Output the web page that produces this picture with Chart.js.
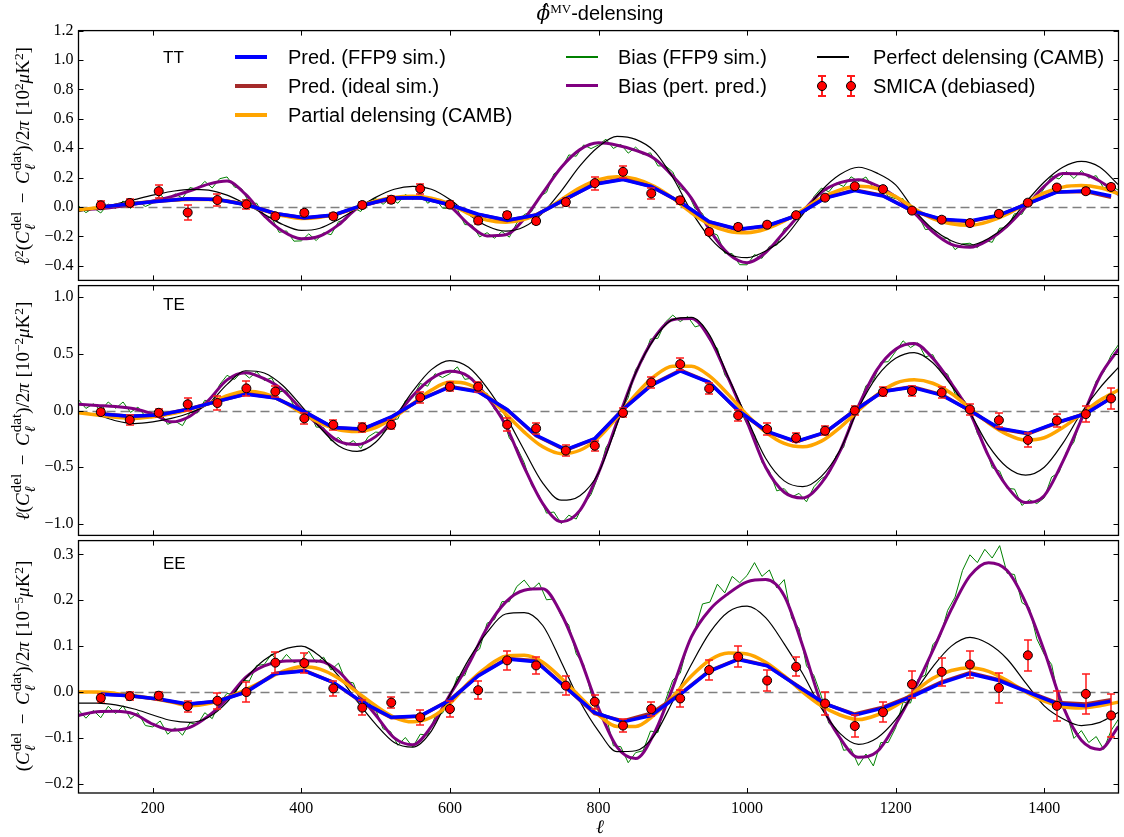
<!DOCTYPE html>
<html>
<head>
<meta charset="utf-8">
<title>MV delensing residuals</title>
<script src="https://cdn.jsdelivr.net/npm/chart.js@4.4.1/dist/chart.umd.min.js"></script>
<style>
    body { margin: 0; background: #fff; }
    #page { position: relative; width: 1124px; height: 837px; overflow: hidden; color: #000; font-family: "Liberation Sans", Arial, sans-serif; }
    .panel { position: absolute; left: 0; }
    .panel canvas { display: block; }
    .txt { position: absolute; white-space: nowrap; line-height: 1; }
    .lt { font-size: 20px; transform: translateY(-50%); }
    .tag { font-size: 17px; transform: translateY(-50%); }
    .hl { position: absolute; }
    .mk { position: absolute; width: 8px; height: 8px; border: 1px solid #000; border-radius: 50%; background: #ff0000; }
    .eb { position: absolute; background: #ff1a1a; }
    .ylab { position: absolute; left: -130px; width: 300px; height: 22px; line-height: 22px; text-align: center;
            transform: rotate(-90deg); font: 19px "Liberation Serif", "DejaVu Serif", serif; white-space: nowrap; }
    .ylab sup { font-size: 70%; line-height: 0; vertical-align: 0.45em; }
    .ylab .op { margin: 0 0.45em; }
    .ylab .unit { margin-left: 0.3em; }
    .ss { display: inline-block; font-size: 0.8em; line-height: 0.95; vertical-align: -0.4em; text-align: left; margin-left: 1px; }
    .ss span { display: block; }
    #title { position: absolute; left: 78px; width: 1044px; top: 1px; text-align: center; font-size: 20px; line-height: 24px; }
    #title .phi { font: italic 20px "DejaVu Serif", serif; }
    #title sup { font: 13px "Liberation Serif", serif; line-height: 0; vertical-align: 0.55em; }
    #xlab { position: absolute; left: 600px; top: 827px; transform: translate(-50%, -50%); font: italic 19px "Liberation Serif", serif; }
</style>
</head>
<body>
<div id="page">

    <div class="panel" style="top:16px"><canvas id="ttChart" width="1124" height="279"></canvas></div>
    <div class="panel" style="top:271px"><canvas id="teChart" width="1124" height="279"></canvas></div>
    <div class="panel" style="top:526px"><canvas id="eeChart" width="1124" height="311"></canvas></div>

    <div id="title"><span class="phi">ϕ̂</span><sup>MV</sup>-delensing</div>

    <div class="ylab" style="top:145px"><i>ℓ</i><sup>2</sup>(<i>C</i><span class="ss"><span>del</span><span><i>ℓ</i></span></span><span class="op">−</span><i>C</i><span class="ss"><span>dat</span><span><i>ℓ</i></span></span>)/2<i>π</i><span class="unit">[10<sup>2</sup><i>μ</i>K<sup>2</sup>]</span></div>
    <div class="ylab" style="top:400px"><i>ℓ</i>(<i>C</i><span class="ss"><span>del</span><span><i>ℓ</i></span></span><span class="op">−</span><i>C</i><span class="ss"><span>dat</span><span><i>ℓ</i></span></span>)/2<i>π</i><span class="unit">[10<sup>−2</sup><i>μ</i>K<sup>2</sup>]</span></div>
    <div class="ylab" style="top:655px">(<i>C</i><span class="ss"><span>del</span><span><i>ℓ</i></span></span><span class="op">−</span><i>C</i><span class="ss"><span>dat</span><span><i>ℓ</i></span></span>)/2<i>π</i><span class="unit">[10<sup>−5</sup><i>μ</i>K<sup>2</sup>]</span></div>

    <div id="xlab">ℓ</div>

    <div class="txt tag" style="left:163px; top:57px">TT</div>
    <div class="txt tag" style="left:163px; top:304px">TE</div>
    <div class="txt tag" style="left:163px; top:563px">EE</div>

    <!-- legend, three columns -->
    <div class="hl" style="left:235px; top:55px; width:32px; height:3.5px; background:#0000ff"></div>
    <div class="txt lt" style="left:288px; top:57px">Pred. (FFP9 sim.)</div>
    <div class="hl" style="left:235px; top:84px; width:32px; height:3.5px; background:#a52a2a"></div>
    <div class="txt lt" style="left:288px; top:86px">Pred. (ideal sim.)</div>
    <div class="hl" style="left:235px; top:113px; width:32px; height:3.5px; background:#ffa500"></div>
    <div class="txt lt" style="left:288px; top:115px">Partial delensing (CAMB)</div>

    <div class="hl" style="left:566px; top:56px; width:32px; height:1.5px; background:#008000"></div>
    <div class="txt lt" style="left:618px; top:57px">Bias (FFP9 sim.)</div>
    <div class="hl" style="left:566px; top:84px; width:32px; height:3px; background:#800080"></div>
    <div class="txt lt" style="left:618px; top:86px">Bias (pert. pred.)</div>

    <div class="hl" style="left:817px; top:56px; width:32px; height:1.5px; background:#000"></div>
    <div class="txt lt" style="left:873px; top:57px">Perfect delensing (CAMB)</div>
    <div class="eb" style="left:821px; top:75px; width:1.5px; height:21px"></div>
    <div class="eb" style="left:818px; top:75px; width:8px; height:1.5px"></div>
    <div class="eb" style="left:818px; top:95px; width:8px; height:1.5px"></div>
    <div class="mk" style="left:817px; top:81px"></div>
    <div class="eb" style="left:850px; top:75px; width:1.5px; height:21px"></div>
    <div class="eb" style="left:847px; top:75px; width:8px; height:1.5px"></div>
    <div class="eb" style="left:847px; top:95px; width:8px; height:1.5px"></div>
    <div class="mk" style="left:846px; top:81px"></div>
    <div class="txt lt" style="left:873px; top:86px">SMICA (debiased)</div>
</div>

<script>
// =============================
// Multipole grids and ticks
// =============================

function range(start, stop, step) {
    const out = [];
    for (let v = start; v <= stop; v += step) out.push(v);
    return out;
}

// smooth CAMB / perturbative curves every 25, noisy simulation every 10
const ellSmooth = range(100, 1500, 25);
const ellNoise = range(100, 1500, 10);

// bin centres of the band powers
const ellBins = [130, 169, 208, 247, 287, 326, 365, 404, 443, 482, 521, 560, 600, 638, 677, 716, 756, 795,
    833, 871, 910, 949, 988, 1027, 1066, 1105, 1145, 1183, 1222, 1262, 1300, 1339, 1378, 1417, 1456, 1490];

const xTicks = [200, 400, 600, 800, 1000, 1200, 1400];
const ttTicks = [-0.4, -0.2, 0.0, 0.2, 0.4, 0.6, 0.8, 1.0, 1.2];
const teTicks = [-1.0, -0.5, 0.0, 0.5, 1.0];
const eeTicks = [-0.2, -0.1, 0.0, 0.1, 0.2, 0.3];


// =============================
// TT
// =============================

const ttSmica = [0.011, 0.027, 0.107, -0.038, 0.047, 0.018, -0.064, -0.04, -0.064, 0.013, 0.049, 0.124, 0.016, -0.093, -0.056, -0.096, 0.033, 0.162,
    0.239, 0.092, 0.045, -0.17, -0.136, -0.121, -0.056, 0.063, 0.141, 0.121, -0.025, -0.087, -0.11, -0.047, 0.029, 0.132, 0.107, 0.136];
const ttSmicaErr = [0.027, 0.028, 0.045, 0.05, 0.044, 0.03, 0.02, 0.02, 0.02, 0.02, 0.022, 0.035, 0.025, 0.022, 0.02, 0.022, 0.025, 0.045,
    0.042, 0.037, 0.022, 0.018, 0.018, 0.018, 0.018, 0.018, 0.018, 0.018, 0.018, 0.018, 0.018, 0.018, 0.018, 0.02, 0.02, 0.022];
const ttPredSim = [0.0, 0.02, 0.038, 0.055, 0.05, 0.015, -0.045, -0.073, -0.055, 0.01, 0.06, 0.062, 0.015, -0.05, -0.09, -0.055, 0.055, 0.155,
    0.186, 0.139, 0.034, -0.1, -0.152, -0.128, -0.06, 0.06, 0.112, 0.074, -0.025, -0.083, -0.096, -0.056, 0.022, 0.1, 0.11, 0.074];
const ttPredIdeal = [0.0, 0.02, 0.04, 0.055, 0.05, 0.017, -0.045, -0.075, -0.057, 0.01, 0.062, 0.063, 0.015, -0.052, -0.092, -0.055, 0.053, 0.158,
    0.19, 0.14, 0.032, -0.103, -0.155, -0.13, -0.06, 0.062, 0.116, 0.078, -0.027, -0.087, -0.1, -0.058, 0.022, 0.104, 0.104, 0.065];
const ttPartial = [-0.02, -0.005, 0.01, 0.025, 0.035, 0.045, 0.05, 0.05, 0.04, 0.015,
    -0.025, -0.06, -0.078, -0.07, -0.045, -0.005, 0.04, 0.065, 0.072, 0.06,
    0.02, -0.045, -0.09, -0.105, -0.085, -0.03, 0.05, 0.13, 0.185, 0.205,
    0.19, 0.14, 0.06, -0.04, -0.12, -0.165, -0.175, -0.15, -0.095, -0.02,
    0.06, 0.115, 0.14, 0.125, 0.07, -0.01, -0.08, -0.115, -0.125, -0.1,
    -0.05, 0.025, 0.095, 0.135, 0.145, 0.13, 0.09];
const ttPerfect = [-0.03, -0.01, 0.02, 0.05, 0.08, 0.105, 0.12, 0.115, 0.08, 0.02,
    -0.05, -0.12, -0.16, -0.145, -0.085, -0.01, 0.065, 0.12, 0.14, 0.12,
    0.05, -0.05, -0.13, -0.165, -0.135, -0.04, 0.11, 0.28, 0.41, 0.48,
    0.46, 0.38, 0.2, -0.03, -0.21, -0.32, -0.345, -0.3, -0.21, -0.05,
    0.11, 0.22, 0.27, 0.23, 0.15, -0.02, -0.15, -0.23, -0.26, -0.215,
    -0.12, 0.03, 0.17, 0.27, 0.31, 0.27, 0.15];
const ttBiasPert = [-0.02, -0.012, 0.0, 0.018, 0.04, 0.07, 0.11, 0.155, 0.176, 0.085,
    -0.06, -0.166, -0.217, -0.198, -0.122, -0.01, 0.029, 0.053, 0.062, 0.046,
    0.003, -0.117, -0.197, -0.19, -0.08, 0.095, 0.27, 0.39, 0.436, 0.42,
    0.385, 0.33, 0.21, 0.06, -0.16, -0.32, -0.38, -0.31, -0.17, -0.03,
    0.1, 0.165, 0.185, 0.145, 0.07, -0.04, -0.17, -0.255, -0.275, -0.225,
    -0.13, 0.0, 0.14, 0.228, 0.225, 0.175, 0.085];
const ttBiasSim = [0.008, -0.039, -0.006, -0.041, 0.02, -0.011, 0.041, -0.011, 0.039, 0.003,
    0.026, 0.083, 0.039, 0.089, 0.06, 0.132, 0.12, 0.174, 0.129, 0.192,
    0.204, 0.135, 0.122, 0.024, 0.025, -0.071, -0.071, -0.173, -0.163, -0.233,
    -0.231, -0.183, -0.229, -0.175, -0.189, -0.1, -0.088, -0.007, -0.031, 0.035,
    0.057, 0.018, 0.058, 0.025, 0.085, 0.051, 0.092, 0.025, 0.057, -0.008,
    -0.011, -0.014, -0.12, -0.124, -0.204, -0.175, -0.213, -0.167, -0.206, -0.11,
    -0.052, -0.032, 0.068, 0.099, 0.225, 0.259, 0.354, 0.345, 0.422, 0.397,
    0.422, 0.461, 0.398, 0.426, 0.366, 0.407, 0.357, 0.368, 0.279, 0.28,
    0.238, 0.128, 0.098, -0.011, -0.045, -0.171, -0.191, -0.315, -0.318, -0.393,
    -0.394, -0.324, -0.35, -0.269, -0.259, -0.148, -0.123, -0.032, -0.031, 0.07,
    0.128, 0.103, 0.163, 0.139, 0.205, 0.174, 0.204, 0.13, 0.147, 0.072,
    0.056, 0.056, -0.045, -0.054, -0.154, -0.148, -0.213, -0.212, -0.291, -0.252,
    -0.247, -0.277, -0.227, -0.241, -0.145, -0.141, -0.046, -0.05, 0.047, 0.057,
    0.126, 0.211, 0.19, 0.241, 0.194, 0.247, 0.197, 0.213, 0.129, 0.145,
    0.113];


// =============================
// TE
// =============================

const teSmica = [-0.014, -0.083, -0.02, 0.055, 0.066, 0.195, 0.167, -0.069, -0.126, -0.149, -0.126, 0.115, 0.21, 0.21, -0.124, -0.158, -0.353, -0.31,
    -0.02, 0.247, 0.408, 0.193, -0.043, -0.164, -0.241, -0.178, 0.0, 0.164, 0.172, 0.158, 0.009, -0.086, -0.259, -0.089, -0.032, 0.106];
const teSmicaErr = [0.03, 0.043, 0.035, 0.059, 0.065, 0.066, 0.05, 0.05, 0.045, 0.04, 0.04, 0.045, 0.04, 0.045, 0.055, 0.05, 0.05, 0.045,
    0.04, 0.05, 0.05, 0.05, 0.05, 0.05, 0.04, 0.04, 0.04, 0.04, 0.04, 0.05, 0.05, 0.06, 0.065, 0.06, 0.07, 0.09];
const tePredSim = [-0.03, -0.05, -0.04, 0.01, 0.08, 0.144, 0.11, -0.01, -0.15, -0.164, -0.057, 0.095, 0.207, 0.164, 0.009, -0.218, -0.345, -0.247,
    0.009, 0.221, 0.348, 0.247, 0.0, -0.184, -0.273, -0.192, 0.0, 0.167, 0.204, 0.135, 0.0, -0.155, -0.201, -0.106, -0.029, 0.109];
const tePredIdeal = [-0.028, -0.05, -0.04, 0.012, 0.082, 0.148, 0.112, -0.012, -0.152, -0.166, -0.06, 0.097, 0.212, 0.17, 0.005, -0.222, -0.35, -0.25,
    0.012, 0.226, 0.355, 0.25, -0.003, -0.188, -0.276, -0.195, 0.002, 0.17, 0.21, 0.14, -0.002, -0.16, -0.205, -0.11, -0.025, 0.11];
const tePartial = [-0.02, -0.04, -0.06, -0.07, -0.055, -0.03, 0.01, 0.06, 0.13, 0.17,
    0.15, 0.08, -0.02, -0.11, -0.17, -0.185, -0.15, -0.06, 0.06, 0.18,
    0.25, 0.23, 0.13, -0.03, -0.19, -0.32, -0.38, -0.35, -0.24, -0.06,
    0.14, 0.3, 0.39, 0.39, 0.3, 0.14, -0.04, -0.19, -0.29, -0.32,
    -0.27, -0.15, 0.0, 0.14, 0.24, 0.27, 0.24, 0.15, 0.02, -0.11,
    -0.21, -0.26, -0.24, -0.15, -0.03, 0.09, 0.18];
const tePerfect = [-0.01, -0.04, -0.09, -0.115, -0.1, -0.07, -0.02, 0.06, 0.23, 0.35,
    0.33, 0.22, 0.04, -0.15, -0.31, -0.36, -0.28, -0.07, 0.17, 0.36,
    0.44, 0.38, 0.2, -0.05, -0.35, -0.64, -0.79, -0.75, -0.55, -0.12,
    0.33, 0.63, 0.8, 0.82, 0.66, 0.29, -0.07, -0.42, -0.62, -0.67,
    -0.58, -0.35, 0.02, 0.3, 0.46, 0.51, 0.42, 0.22, -0.02, -0.31,
    -0.5, -0.57, -0.5, -0.29, -0.02, 0.2, 0.38];
const teBiasPert = [0.055, 0.045, 0.035, 0.015, -0.03, -0.1, -0.05, 0.09, 0.27, 0.333,
    0.28, 0.18, 0.01, -0.14, -0.27, -0.3, -0.23, -0.07, 0.13, 0.28,
    0.345, 0.3, 0.12, -0.13, -0.5, -0.82, -0.98, -0.88, -0.55, -0.1,
    0.33, 0.64, 0.8, 0.81, 0.63, 0.28, -0.1, -0.5, -0.72, -0.77,
    -0.64, -0.36, 0.04, 0.36, 0.54, 0.59, 0.46, 0.24, -0.02, -0.4,
    -0.67, -0.81, -0.75, -0.45, -0.08, 0.3, 0.54];
const teBiasSim = [0.095, 0.018, 0.059, -0.001, 0.075, 0.019, 0.075, -0.017, 0.03, -0.052,
    -0.05, -0.014, -0.122, -0.094, -0.133, -0.018, -0.022, 0.09, 0.076, 0.228,
    0.31, 0.273, 0.342, 0.286, 0.341, 0.264, 0.288, 0.164, 0.174, 0.04,
    -0.01, -0.006, -0.146, -0.149, -0.268, -0.238, -0.307, -0.265, -0.334, -0.232,
    -0.19, -0.197, -0.088, -0.074, 0.086, 0.114, 0.238, 0.214, 0.324, 0.29,
    0.325, 0.384, 0.274, 0.286, 0.152, 0.152, 0.008, -0.04, -0.244, -0.322,
    -0.46, -0.662, -0.748, -0.904, -0.894, -0.996, -0.922, -0.956, -0.826, -0.74,
    -0.57, -0.326, -0.226, -0.004, 0.112, 0.362, 0.448, 0.63, 0.636, 0.778,
    0.84, 0.783, 0.827, 0.736, 0.756, 0.614, 0.548, 0.314, 0.224, 0.01,
    -0.12, -0.216, -0.456, -0.534, -0.708, -0.688, -0.762, -0.73, -0.804, -0.672,
    -0.6, -0.562, -0.398, -0.324, -0.084, 0.024, 0.218, 0.264, 0.424, 0.43,
    0.52, 0.614, 0.554, 0.596, 0.472, 0.492, 0.358, 0.32, 0.146, 0.108,
    0.02, -0.202, -0.308, -0.504, -0.534, -0.686, -0.692, -0.836, -0.786, -0.82,
    -0.77, -0.586, -0.546, -0.364, -0.278, -0.048, 0.058, 0.26, 0.336, 0.488,
    0.58];


// =============================
// EE
// =============================

const eeSmica = [-0.013, -0.009, -0.008, -0.031, -0.019, 0.0, 0.064, 0.063, 0.008, -0.034, -0.023, -0.055, -0.037, 0.004, 0.069, 0.058, 0.014, -0.021,
    -0.073, -0.037, -0.014, 0.048, 0.077, 0.025, 0.055, -0.025, -0.074, -0.044, 0.017, 0.044, 0.06, 0.009, 0.08, -0.03, -0.004, -0.051];
const eeSmicaErr = [0.008, 0.008, 0.009, 0.012, 0.017, 0.021, 0.023, 0.022, 0.016, 0.016, 0.012, 0.016, 0.017, 0.02, 0.02, 0.019, 0.02, 0.015,
    0.015, 0.016, 0.019, 0.021, 0.023, 0.022, 0.021, 0.024, 0.025, 0.022, 0.029, 0.031, 0.029, 0.032, 0.034, 0.033, 0.043, 0.047];
const eePredSim = [-0.005, -0.008, -0.015, -0.026, -0.02, 0.0, 0.04, 0.046, 0.021, -0.022, -0.055, -0.052, -0.018, 0.035, 0.072, 0.066, 0.01, -0.045,
    -0.065, -0.051, -0.005, 0.045, 0.071, 0.057, 0.015, -0.025, -0.05, -0.035, -0.01, 0.02, 0.04, 0.025, 0.0, -0.025, -0.03, -0.02];
const eePredIdeal = [-0.004, -0.008, -0.016, -0.027, -0.02, 0.001, 0.041, 0.047, 0.021, -0.023, -0.056, -0.053, -0.017, 0.036, 0.073, 0.068, 0.01, -0.047,
    -0.063, -0.046, -0.004, 0.046, 0.072, 0.058, 0.016, -0.026, -0.048, -0.033, -0.008, 0.022, 0.042, 0.027, 0.001, -0.023, -0.026, -0.017];
const eePartial = [0.0, 0.0, -0.003, -0.008, -0.014, -0.022, -0.03, -0.025, -0.012, 0.005,
    0.025, 0.045, 0.055, 0.05, 0.03, 0.0, -0.03, -0.055, -0.065, -0.055,
    -0.025, 0.02, 0.055, 0.078, 0.08, 0.065, 0.03, -0.01, -0.05, -0.075,
    -0.075, -0.05, -0.01, 0.035, 0.07, 0.085, 0.083, 0.065, 0.035, 0.0,
    -0.03, -0.05, -0.06, -0.05, -0.03, 0.0, 0.03, 0.047, 0.053, 0.045,
    0.025, 0.0, -0.02, -0.032, -0.035, -0.03, -0.022];
const eePerfect = [-0.024, -0.024, -0.028, -0.037, -0.05, -0.062, -0.066, -0.055, -0.022, 0.03,
    0.07, 0.092, 0.1, 0.078, 0.035, -0.02, -0.07, -0.11, -0.12, -0.085,
    -0.006, 0.07, 0.13, 0.17, 0.173, 0.145, 0.065, -0.02, -0.085, -0.13,
    -0.128, -0.095, -0.02, 0.06, 0.13, 0.175, 0.187, 0.162, 0.105, 0.04,
    -0.035, -0.09, -0.114, -0.1, -0.06, -0.002, 0.055, 0.1, 0.119, 0.105,
    0.072, 0.02, -0.03, -0.058, -0.073, -0.066, -0.044];
const eeBiasPert = [-0.051, -0.043, -0.042, -0.048, -0.07, -0.083, -0.077, -0.052, -0.015, 0.032,
    0.057, 0.067, 0.068, 0.067, 0.045, -0.001, -0.05, -0.1, -0.115, -0.075,
    -0.006, 0.06, 0.14, 0.196, 0.222, 0.225, 0.17, 0.075, -0.035, -0.12,
    -0.145, -0.09, 0.01, 0.12, 0.18, 0.215, 0.24, 0.245, 0.21, 0.1,
    -0.025, -0.1, -0.142, -0.13, -0.07, 0.005, 0.09, 0.18, 0.253, 0.282,
    0.265, 0.195, 0.09, -0.03, -0.105, -0.125, -0.075];
const eeBiasSim = [-0.039, -0.057, -0.04, -0.056, -0.031, -0.047, -0.03, -0.058, -0.045, -0.073,
    -0.076, -0.063, -0.092, -0.078, -0.094, -0.067, -0.071, -0.045, -0.058, -0.022,
    -0.003, -0.006, 0.026, 0.024, 0.058, 0.06, 0.083, 0.062, 0.082, 0.064,
    0.07, 0.089, 0.064, 0.076, 0.048, 0.063, 0.023, 0.02, -0.023, -0.022,
    -0.038, -0.08, -0.086, -0.116, -0.099, -0.12, -0.092, -0.094, -0.054, -0.046,
    -0.012, 0.033, 0.036, 0.081, 0.094, 0.15, 0.158, 0.197, 0.197, 0.23,
    0.244, 0.223, 0.238, 0.201, 0.203, 0.165, 0.146, 0.083, 0.06, -0.003,
    -0.043, -0.051, -0.117, -0.119, -0.154, -0.132, -0.128, -0.085, -0.088, -0.019,
    0.026, 0.041, 0.103, 0.136, 0.192, 0.196, 0.235, 0.216, 0.252, 0.238,
    0.254, 0.282, 0.252, 0.266, 0.227, 0.245, 0.161, 0.138, 0.057, 0.036,
    -0.009, -0.068, -0.08, -0.127, -0.124, -0.16, -0.135, -0.161, -0.11, -0.11,
    -0.078, -0.022, -0.024, 0.028, 0.037, 0.103, 0.121, 0.178, 0.207, 0.265,
    0.299, 0.282, 0.311, 0.292, 0.319, 0.259, 0.256, 0.195, 0.184, 0.116,
    0.082, 0.06, -0.02, -0.046, -0.101, -0.084, -0.11, -0.097, -0.125, -0.084,
    -0.059];


// =============================
// Plugins: frame, inward ticks, zero line, error bars
// =============================

const panelFrame = {
    id: "panelFrame",

    beforeDatasetsDraw(chart) {
        const { ctx, chartArea: a, scales } = chart;
        const y0 = Math.round(scales.y.getPixelForValue(0)) + 0.5;
        ctx.save();
        ctx.strokeStyle = "#808080";
        ctx.lineWidth = 1.5;
        ctx.setLineDash([9, 5]);
        ctx.beginPath();
        ctx.moveTo(a.left, y0);
        ctx.lineTo(a.right, y0);
        ctx.stroke();
        ctx.restore();
    },

    afterDatasetsDraw(chart, args, opts) {
        const { ctx, chartArea: a, scales } = chart;
        ctx.save();
        ctx.strokeStyle = "#000";
        ctx.lineWidth = 1;
        ctx.beginPath();
        xTicks.forEach(v => {
            const px = Math.round(scales.x.getPixelForValue(v)) + 0.5;
            ctx.moveTo(px, a.top);
            ctx.lineTo(px, a.top + 5);
            ctx.moveTo(px, a.bottom);
            ctx.lineTo(px, a.bottom - 5);
        });
        (opts.yTicks || []).forEach(v => {
            const py = Math.round(scales.y.getPixelForValue(v)) + 0.5;
            ctx.moveTo(a.left, py);
            ctx.lineTo(a.left + 5, py);
            ctx.moveTo(a.right, py);
            ctx.lineTo(a.right - 5, py);
        });
        ctx.stroke();
        ctx.lineWidth = 1.3;
        ctx.strokeRect(a.left, a.top, a.right - a.left, a.bottom - a.top);
        ctx.restore();
    }
};

const errorBars = {
    id: "errorBars",

    beforeDatasetDraw(chart, args) {
        const ds = chart.data.datasets[args.index];
        if (!ds.yErr) return;
        const { ctx, scales } = chart;
        ctx.save();
        ctx.strokeStyle = "#ff1a1a";
        ctx.lineWidth = 1.5;
        ds.data.forEach((p, i) => {
            const x = Math.round(scales.x.getPixelForValue(p.x));
            const lo = Math.round(scales.y.getPixelForValue(p.y - ds.yErr[i]));
            const hi = Math.round(scales.y.getPixelForValue(p.y + ds.yErr[i]));
            ctx.beginPath();
            ctx.moveTo(x, lo);
            ctx.lineTo(x, hi);
            ctx.moveTo(x - 4, lo);
            ctx.lineTo(x + 4, lo);
            ctx.moveTo(x - 4, hi);
            ctx.lineTo(x + 4, hi);
            ctx.stroke();
        });
        ctx.restore();
    }
};

Chart.register(panelFrame, errorBars);


// =============================
// Helpers
// =============================

function pts(xs, ys) {
    return xs.map((x, i) => ({ x: x, y: ys[i] }));
}

function tickText(v) {
    return v.toFixed(1).replace("-", "\u2212");
}

function curve(xs, ys, color, width, order, smooth) {
    return {
        data: pts(xs, ys),
        borderColor: color,
        borderWidth: width,
        pointRadius: 0,
        fill: false,
        order: order,
        tension: 0,
        cubicInterpolationMode: smooth ? "monotone" : "default",
        borderJoinStyle: "round",
        borderCapStyle: "butt"
    };
}

function panelDatasets(smica, smicaErr, predSim, predIdeal, partial, perfect, biasPert, biasSim) {
    return [
        {
            data: pts(ellBins, smica),
            yErr: smicaErr,
            showLine: false,
            pointRadius: 4.5,
            pointBackgroundColor: "#ff0000",
            pointBorderColor: "#000",
            pointBorderWidth: 1,
            order: 0
        },
        curve(ellBins, predSim, "#0000ff", 3.5, 1, false),
        curve(ellBins, predIdeal, "#a52a2a", 3.5, 2, false),
        curve(ellSmooth, partial, "#ffa500", 3.5, 3, true),
        curve(ellSmooth, perfect, "#000000", 1.2, 4, true),
        curve(ellSmooth, biasPert, "#800080", 3, 5, true),
        curve(ellNoise, biasSim, "#008000", 1, 6, false)
    ];
}

function drawPanel(canvasId, yMin, yMax, yTicks, showX, datasets) {

    return new Chart(document.getElementById(canvasId), {

        type: "line",

        data: { datasets: datasets },

        options: {
            responsive: false,
            animation: false,
            events: [],
            layout: { padding: { top: 12, bottom: showX ? 0 : 12, left: 0, right: 2 } },
            plugins: {
                legend: { display: false },
                tooltip: { enabled: false },
                panelFrame: { yTicks: yTicks }
            },
            scales: {
                x: {
                    type: "linear",
                    min: 100,
                    max: 1500,
                    display: showX,
                    afterBuildTicks: s => { s.ticks = xTicks.map(v => ({ value: v })); },
                    afterFit: s => { if (showX) s.height = 44; },
                    grid: { display: false, drawTicks: false },
                    border: { display: false },
                    ticks: {
                        color: "#000",
                        padding: 6,
                        maxRotation: 0,
                        autoSkip: false,
                        font: { family: "Liberation Serif", size: 16 },
                        callback: v => String(v)
                    }
                },
                y: {
                    type: "linear",
                    min: yMin,
                    max: yMax,
                    afterBuildTicks: s => { s.ticks = yTicks.map(v => ({ value: v })); },
                    afterFit: s => { s.width = 78.5; },
                    grid: { display: false, drawTicks: false },
                    border: { display: false },
                    ticks: {
                        color: "#000",
                        padding: 5,
                        font: { family: "Liberation Serif", size: 16 },
                        callback: v => tickText(v)
                    }
                }
            }
        }
    });
}


// =============================
// Draw the three panels
// =============================

drawPanel("ttChart", -0.5, 1.2, ttTicks, false,
    panelDatasets(ttSmica, ttSmicaErr, ttPredSim, ttPredIdeal, ttPartial, ttPerfect, ttBiasPert, ttBiasSim));

drawPanel("teChart", -1.1, 1.1, teTicks, false,
    panelDatasets(teSmica, teSmicaErr, tePredSim, tePredIdeal, tePartial, tePerfect, teBiasPert, teBiasSim));

drawPanel("eeChart", -0.22, 0.33, eeTicks, true,
    panelDatasets(eeSmica, eeSmicaErr, eePredSim, eePredIdeal, eePartial, eePerfect, eeBiasPert, eeBiasSim));
</script>
</body>
</html>
